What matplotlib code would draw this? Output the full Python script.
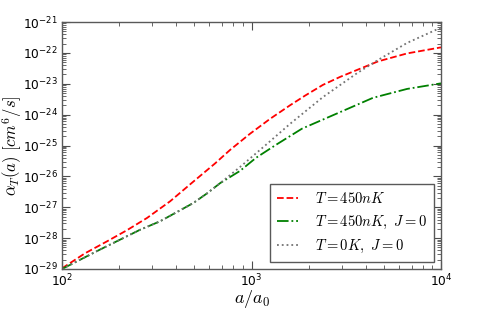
import matplotlib
matplotlib.use("Agg")
import matplotlib.pyplot as plt
from matplotlib.ticker import FixedLocator, FuncFormatter, NullFormatter
import math

# Data
a_red = [100, 132, 173, 220, 281, 372, 491, 641, 771, 982, 1253, 1596, 1914,
         2382, 2930, 3606, 4656, 6622, 9890, 10000]
alpha_red = [1.05e-29, 3.2e-29, 7.9e-29, 1.8e-28, 4.5e-28, 1.56e-27, 6.6e-27,
             2.6e-26, 7.2e-26, 2.4e-25, 7.3e-25, 2.0e-24, 4.1e-24, 9.2e-24,
             1.66e-23, 2.8e-23, 5.3e-23, 9.6e-23, 1.49e-22, 1.5e-22]

a_green = [100, 158, 258, 329, 491, 582, 682, 869, 1057, 1346, 1845, 2930,
           4375, 6622, 9890, 10000]
alpha_green = [1.0e-29, 4.2e-29, 1.86e-28, 3.5e-28, 1.35e-27, 2.8e-27, 6.0e-27,
               1.5e-26, 4.0e-26, 1.05e-25, 3.5e-25, 1.2e-24, 3.5e-24, 6.8e-24,
               1.02e-23, 1.03e-23]

a_gray = [100, 158, 258, 329, 491, 582, 682, 869, 1202, 1596, 2382, 3606, 4656,
          6622, 9890, 10000]
alpha_gray = [1.0e-29, 4.2e-29, 1.86e-28, 3.5e-28, 1.35e-27, 2.8e-27, 6.0e-27,
              2.0e-26, 1.1e-25, 5.0e-25, 3.7e-24, 2.2e-23, 5.9e-23, 2.1e-22,
              6.4e-22, 6.6e-22]

x_exps = [2, 3, 4]
y_exps = [-29, -28, -27, -26, -25, -24, -23, -22, -21]

labels = [r"$T=450nK$", r"$T=450nK,\ J=0$", r"$T=0K,\ J=0$"]

plt.rcParams['mathtext.fontset'] = 'cm'

fig = plt.figure(figsize=(4.91, 3.12), dpi=100)
ax = fig.add_axes([62/491, 1-269/312, (441-62)/491, (269-22)/312])

ax.plot(a_red, alpha_red, color='red', ls='--', lw=1.3, label=labels[0])
ax.plot(a_green, alpha_green, color='green', ls='-.', lw=1.3, label=labels[1])
ax.plot(a_gray, alpha_gray, color='0.45', ls=':', lw=1.3, label=labels[2])

ax.set_xscale('log')
ax.set_yscale('log')
ax.set_xlim(10.0 ** x_exps[0], 10.0 ** x_exps[-1])
ax.set_ylim(10.0 ** y_exps[0], 10.0 ** y_exps[-1])

ax.xaxis.set_major_locator(FixedLocator([10.0 ** e for e in x_exps]))
ax.xaxis.set_minor_locator(FixedLocator([m * 10.0 ** e for e in x_exps[:-1]
                                         for m in range(2, 10)]))
ax.yaxis.set_major_locator(FixedLocator([10.0 ** e for e in y_exps]))
ax.yaxis.set_minor_locator(FixedLocator([m * 10.0 ** e for e in y_exps[:-1]
                                         for m in range(2, 10)]))

def fmt(v, pos):
    e = int(round(math.log10(v)))
    return r"$\mathdefault{10^{%d}}$" % e

ax.xaxis.set_major_formatter(FuncFormatter(fmt))
ax.yaxis.set_major_formatter(FuncFormatter(fmt))
ax.xaxis.set_minor_formatter(NullFormatter())
ax.yaxis.set_minor_formatter(NullFormatter())

ax.tick_params(which='both', direction='in', top=True, right=True, labelsize=8.8,
               color='0.3')
ax.tick_params(which='major', length=6, width=0.8)
ax.tick_params(axis='y', which='major', pad=3)
ax.tick_params(axis='x', which='major', pad=3)
ax.tick_params(which='minor', length=3, width=0.6)
for s in ax.spines.values():
    s.set_color('0.35')
    s.set_linewidth(1.0)

ax.set_xlabel(r"$a/a_0$", fontsize=13)
ax.set_ylabel(r"$\alpha_T(a)\ [cm^6/s]$", fontsize=12)
ax.xaxis.set_label_coords(0.5, -(288.5 - 269) / 247)
ax.yaxis.set_label_coords(-(62 - 24.5) / 379, 0.5)

leg = ax.legend(loc='lower right', fontsize=10.5, handlelength=1.45,
                fancybox=False, framealpha=1, borderpad=0.5, labelspacing=0.5,
                handletextpad=1.15, borderaxespad=0.45)
leg.get_frame().set_edgecolor('0.35')
leg.get_frame().set_linewidth(1.0)

fig.savefig('out.png', dpi=100)
